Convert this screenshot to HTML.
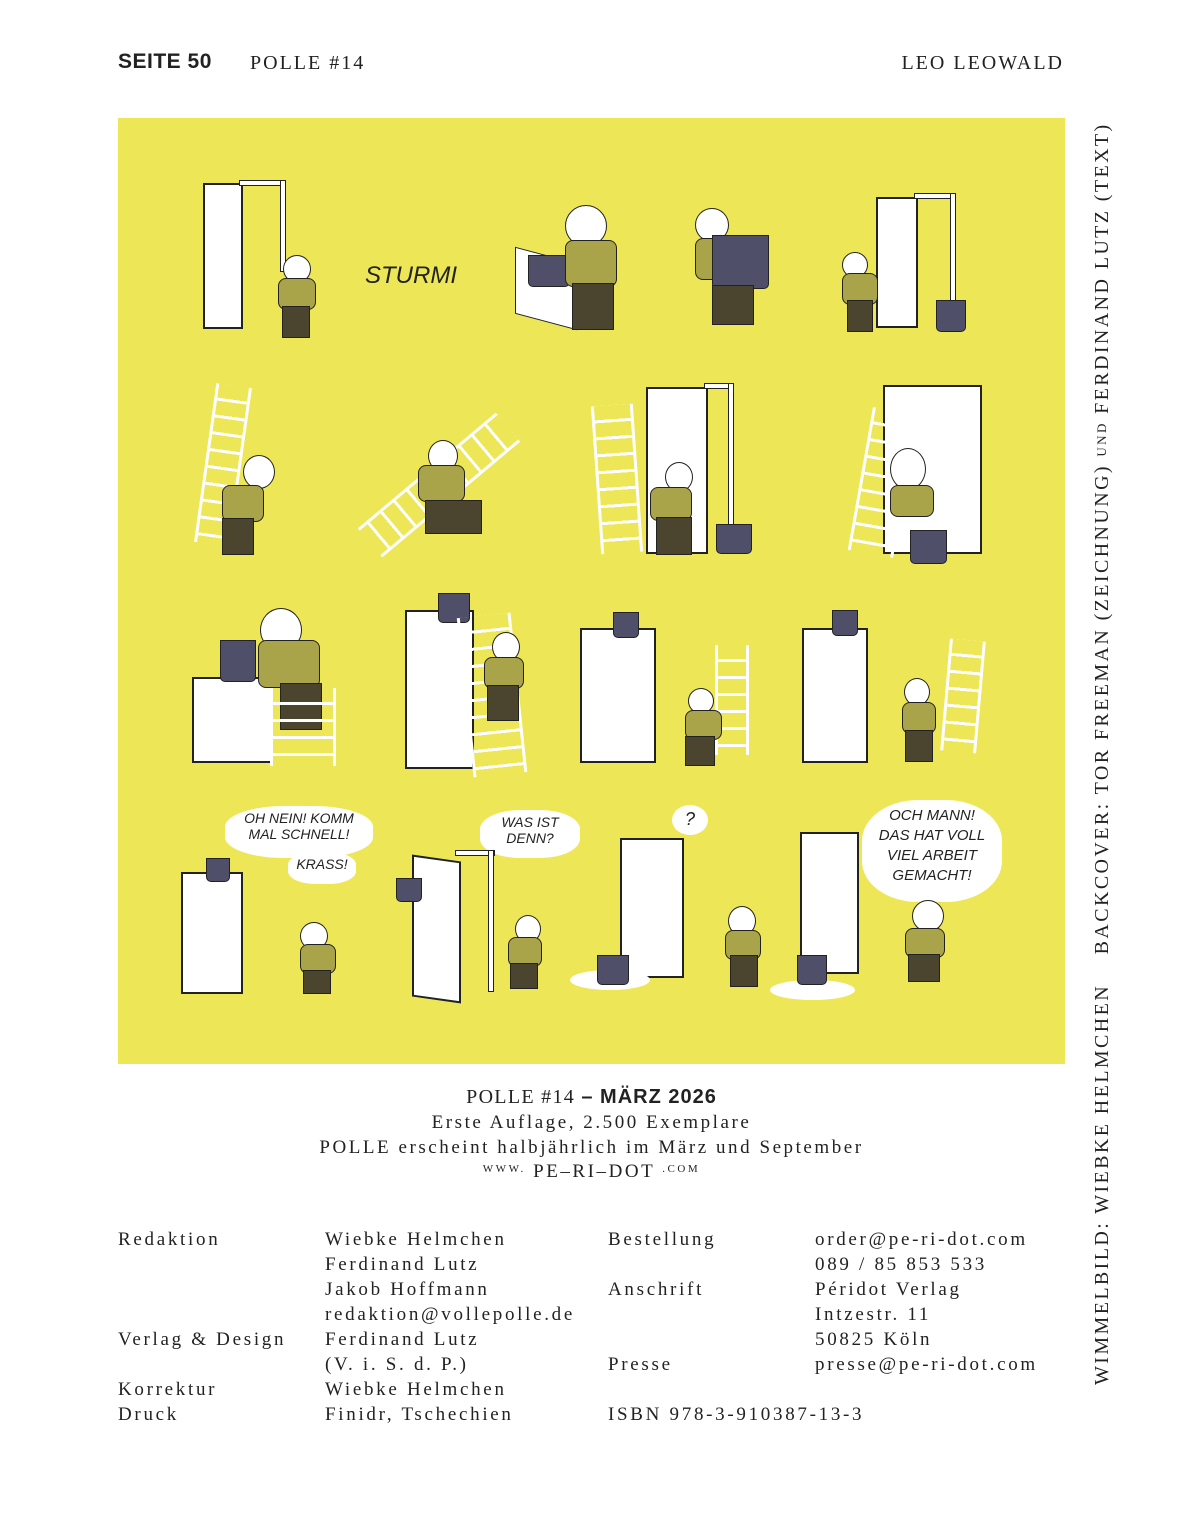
<!DOCTYPE html>
<html><head><meta charset="utf-8"><style>
body{margin:0;width:1182px;height:1536px;background:#fff;position:relative;overflow:hidden;font-family:"Liberation Serif",serif;color:#222}
.a{position:absolute}
.s{font-family:"Liberation Serif",serif;letter-spacing:2.7px;font-size:19px;white-space:nowrap}
.c{letter-spacing:2.55px}
.door{position:absolute;background:#fff;border:2px solid #222}
.head{position:absolute;background:#fff;border:1.5px solid #222;border-radius:50%}
.shirt{position:absolute;background:#a9a34a;border:1.5px solid #222;border-radius:8px}
.pants{position:absolute;background:#4b4530;border:1.5px solid #222}
.bucket{position:absolute;background:#4f4f6a;border:1.5px solid #222;border-radius:0 0 5px 5px}
.bub{position:absolute;background:#fff;border-radius:40%;font-family:"Liberation Sans",sans-serif;font-size:14px;text-align:center;line-height:16px;color:#222;font-style:italic}
.lad{position:absolute;border-left:3px solid #fff;border-right:3px solid #fff;background:repeating-linear-gradient(180deg,transparent 0 14px,#fff 14px 17px)}
</style></head><body>
<div class="a" style="left:118px;top:50px;font-family:'Liberation Sans',sans-serif;font-weight:bold;font-size:21px;letter-spacing:0.5px">SEITE 50</div>
<div class="a" style="left:250px;top:52px;font-size:20px;letter-spacing:2px">POLLE #14</div>
<div class="a" style="right:118px;top:52px;font-size:20px;letter-spacing:2px">LEO LEOWALD</div>

<div class="a" style="left:118px;top:118px;width:947px;height:946px;background:#ede657"></div>

<!-- row 1 -->
<div class="door" style="left:203px;top:183px;width:36px;height:142px"></div>
<div class="a" style="left:239px;top:180px;width:45px;height:4px;background:#fff;border:1px solid #222"></div>
<div class="a" style="left:280px;top:180px;width:4px;height:90px;background:#fff;border:1px solid #222"></div>
<div class="head" style="left:283px;top:255px;width:26px;height:26px"></div>
<div class="shirt" style="left:278px;top:278px;width:36px;height:30px"></div>
<div class="pants" style="left:282px;top:306px;width:26px;height:30px"></div>
<div class="a" style="left:365px;top:262px;font-family:'Liberation Sans',sans-serif;font-size:24px;font-style:italic;color:#222">STURMI</div>
<div class="a" style="left:515px;top:255px;width:60px;height:65px;background:#fff;border:1.5px solid #222;transform:skewY(15deg)"></div>
<div class="bucket" style="left:528px;top:255px;width:40px;height:30px"></div>
<div class="head" style="left:565px;top:205px;width:40px;height:40px"></div>
<div class="shirt" style="left:565px;top:240px;width:50px;height:45px"></div>
<div class="pants" style="left:572px;top:283px;width:40px;height:45px"></div>
<div class="head" style="left:695px;top:208px;width:32px;height:32px"></div>
<div class="shirt" style="left:695px;top:238px;width:45px;height:40px"></div>
<div class="bucket" style="left:712px;top:235px;width:55px;height:52px"></div>
<div class="pants" style="left:712px;top:285px;width:40px;height:38px"></div>
<div class="door" style="left:876px;top:197px;width:38px;height:127px"></div>
<div class="a" style="left:914px;top:193px;width:40px;height:4px;background:#fff;border:1px solid #222"></div>
<div class="a" style="left:950px;top:193px;width:4px;height:108px;background:#fff;border:1px solid #222"></div>
<div class="head" style="left:842px;top:252px;width:24px;height:24px"></div>
<div class="shirt" style="left:842px;top:273px;width:34px;height:30px"></div>
<div class="pants" style="left:847px;top:300px;width:24px;height:30px"></div>
<div class="bucket" style="left:936px;top:300px;width:28px;height:30px"></div>

<!-- row 2 -->
<div class="lad" style="left:205px;top:385px;width:30px;height:160px;transform:rotate(8deg)"></div>
<div class="head" style="left:243px;top:455px;width:30px;height:32px"></div>
<div class="shirt" style="left:222px;top:485px;width:40px;height:35px"></div>
<div class="pants" style="left:222px;top:518px;width:30px;height:35px"></div>
<div class="lad" style="left:420px;top:395px;width:32px;height:180px;transform:rotate(50deg)"></div>
<div class="head" style="left:428px;top:440px;width:28px;height:30px"></div>
<div class="shirt" style="left:418px;top:465px;width:45px;height:35px"></div>
<div class="pants" style="left:425px;top:500px;width:55px;height:32px"></div>
<div class="door" style="left:646px;top:387px;width:58px;height:163px"></div>
<div class="a" style="left:704px;top:383px;width:28px;height:4px;background:#fff;border:1px solid #222"></div>
<div class="a" style="left:728px;top:383px;width:4px;height:160px;background:#fff;border:1px solid #222"></div>
<div class="lad" style="left:596px;top:405px;width:36px;height:148px;transform:rotate(-4deg)"></div>
<div class="head" style="left:665px;top:462px;width:26px;height:28px"></div>
<div class="shirt" style="left:650px;top:487px;width:40px;height:32px"></div>
<div class="pants" style="left:656px;top:517px;width:34px;height:36px"></div>
<div class="bucket" style="left:716px;top:524px;width:34px;height:28px"></div>
<div class="door" style="left:883px;top:385px;width:95px;height:165px"></div>
<div class="lad" style="left:860px;top:410px;width:40px;height:145px;transform:rotate(10deg)"></div>
<div class="head" style="left:890px;top:448px;width:34px;height:40px"></div>
<div class="shirt" style="left:890px;top:485px;width:42px;height:30px"></div>
<div class="bucket" style="left:910px;top:530px;width:35px;height:32px"></div>

<!-- row 3 -->
<div class="door" style="left:192px;top:677px;width:76px;height:82px"></div>
<div class="bucket" style="left:220px;top:640px;width:34px;height:40px"></div>
<div class="head" style="left:260px;top:608px;width:40px;height:42px"></div>
<div class="shirt" style="left:258px;top:640px;width:60px;height:46px"></div>
<div class="pants" style="left:280px;top:683px;width:40px;height:45px"></div>
<div class="lad" style="left:270px;top:688px;width:60px;height:78px"></div>
<div class="door" style="left:405px;top:610px;width:65px;height:155px"></div>
<div class="bucket" style="left:438px;top:593px;width:30px;height:28px"></div>
<div class="lad" style="left:465px;top:615px;width:48px;height:160px;transform:rotate(-6deg)"></div>
<div class="head" style="left:492px;top:632px;width:26px;height:28px"></div>
<div class="shirt" style="left:484px;top:657px;width:38px;height:30px"></div>
<div class="pants" style="left:487px;top:685px;width:30px;height:34px"></div>
<div class="door" style="left:580px;top:628px;width:72px;height:131px"></div>
<div class="bucket" style="left:613px;top:612px;width:24px;height:24px"></div>
<div class="lad" style="left:715px;top:645px;width:28px;height:110px"></div>
<div class="head" style="left:688px;top:688px;width:24px;height:24px"></div>
<div class="shirt" style="left:685px;top:710px;width:35px;height:28px"></div>
<div class="pants" style="left:685px;top:736px;width:28px;height:28px"></div>
<div class="door" style="left:802px;top:628px;width:62px;height:131px"></div>
<div class="bucket" style="left:832px;top:610px;width:24px;height:24px"></div>
<div class="lad" style="left:945px;top:640px;width:30px;height:112px;transform:rotate(5deg)"></div>
<div class="head" style="left:904px;top:678px;width:24px;height:26px"></div>
<div class="shirt" style="left:902px;top:702px;width:32px;height:30px"></div>
<div class="pants" style="left:905px;top:730px;width:26px;height:30px"></div>

<!-- row 4 -->
<div class="bub" style="left:225px;top:806px;width:148px;height:48px;padding-top:4px">OH NEIN! KOMM<br>MAL SCHNELL!</div>
<div class="bub" style="left:288px;top:852px;width:68px;height:28px;padding-top:4px">KRASS!</div>
<div class="door" style="left:181px;top:872px;width:58px;height:118px"></div>
<div class="bucket" style="left:206px;top:858px;width:22px;height:22px"></div>
<div class="head" style="left:300px;top:922px;width:26px;height:26px"></div>
<div class="shirt" style="left:300px;top:944px;width:34px;height:28px"></div>
<div class="pants" style="left:303px;top:970px;width:26px;height:22px"></div>
<div class="bub" style="left:480px;top:810px;width:100px;height:44px;padding-top:4px">WAS IST<br>DENN?</div>
<div class="door" style="left:412px;top:858px;width:45px;height:138px;transform:skewY(8deg)"></div>
<div class="a" style="left:455px;top:850px;width:38px;height:4px;background:#fff;border:1px solid #222"></div>
<div class="a" style="left:488px;top:850px;width:4px;height:140px;background:#fff;border:1px solid #222"></div>
<div class="bucket" style="left:396px;top:878px;width:24px;height:22px"></div>
<div class="head" style="left:515px;top:915px;width:24px;height:26px"></div>
<div class="shirt" style="left:508px;top:937px;width:32px;height:28px"></div>
<div class="pants" style="left:510px;top:963px;width:26px;height:24px"></div>
<div class="bub" style="left:672px;top:805px;width:36px;border-radius:50%;font-size:18px;padding-top:6px;height:24px">?</div>
<div class="door" style="left:620px;top:838px;width:60px;height:136px"></div>
<div class="a" style="left:570px;top:970px;width:80px;height:20px;background:#fff;border-radius:50%"></div>
<div class="bucket" style="left:597px;top:955px;width:30px;height:28px"></div>
<div class="head" style="left:728px;top:906px;width:26px;height:28px"></div>
<div class="shirt" style="left:725px;top:930px;width:34px;height:28px"></div>
<div class="pants" style="left:730px;top:955px;width:26px;height:30px"></div>
<div class="bub" style="left:862px;top:800px;width:140px;height:96px;padding-top:6px;font-size:15px;line-height:20px">OCH MANN!<br>DAS HAT VOLL<br>VIEL ARBEIT<br>GEMACHT!</div>
<div class="door" style="left:800px;top:832px;width:55px;height:138px"></div>
<div class="a" style="left:770px;top:980px;width:85px;height:20px;background:#fff;border-radius:50%"></div>
<div class="bucket" style="left:797px;top:955px;width:28px;height:28px"></div>
<div class="head" style="left:912px;top:900px;width:30px;height:30px"></div>
<div class="shirt" style="left:905px;top:928px;width:38px;height:28px"></div>
<div class="pants" style="left:908px;top:954px;width:30px;height:26px"></div>

<!-- vertical -->
<div class="a" style="left:1088px;top:120px;width:28px;height:1265px;writing-mode:vertical-rl;transform:rotate(180deg);font-size:20px;letter-spacing:2.4px;white-space:nowrap;text-align:left;line-height:28px">WIMMELBILD: WIEBKE HELMCHEN&nbsp;&nbsp;&nbsp; BACKCOVER: TOR FREEMAN (ZEICHNUNG) <span style="font-size:13px">UND</span> FERDINAND LUTZ (TEXT)</div>

<!-- colophon -->
<div class="a" style="left:118px;top:1086px;width:947px;text-align:center;font-size:20px;letter-spacing:1.3px">POLLE #14 <b style="font-family:'Liberation Sans',sans-serif;letter-spacing:1px">– MÄRZ 2026</b></div>
<div class="a s c" style="left:118px;top:1112px;width:947px;text-align:center">Erste Auflage, 2.500 Exemplare</div>
<div class="a s c" style="left:118px;top:1137px;width:947px;text-align:center">POLLE erscheint halbjährlich im März und September</div>
<div class="a s c" style="left:118px;top:1161px;width:947px;text-align:center"><span style="font-size:11px;vertical-align:5px">WWW.</span> PE–RI–DOT <span style="font-size:11px;vertical-align:5px">.COM</span></div>

<div class="a s" style="left:118px;top:1227px;line-height:25px">Redaktion<br><br><br><br>Verlag &amp; Design<br><br>Korrektur<br>Druck</div>
<div class="a s" style="left:325px;top:1227px;line-height:25px">Wiebke Helmchen<br>Ferdinand Lutz<br>Jakob Hoffmann<br>redaktion@vollepolle.de<br>Ferdinand Lutz<br>(V. i. S. d. P.)<br>Wiebke Helmchen<br>Finidr, Tschechien</div>
<div class="a s" style="left:608px;top:1227px;line-height:25px">Bestellung<br><br>Anschrift<br><br><br>Presse<br><br>ISBN 978-3-910387-13-3</div>
<div class="a s" style="left:815px;top:1227px;line-height:25px">order@pe-ri-dot.com<br>089 / 85 853 533<br>Péridot Verlag<br>Intzestr. 11<br>50825 Köln<br>presse@pe-ri-dot.com</div>
</body></html>
